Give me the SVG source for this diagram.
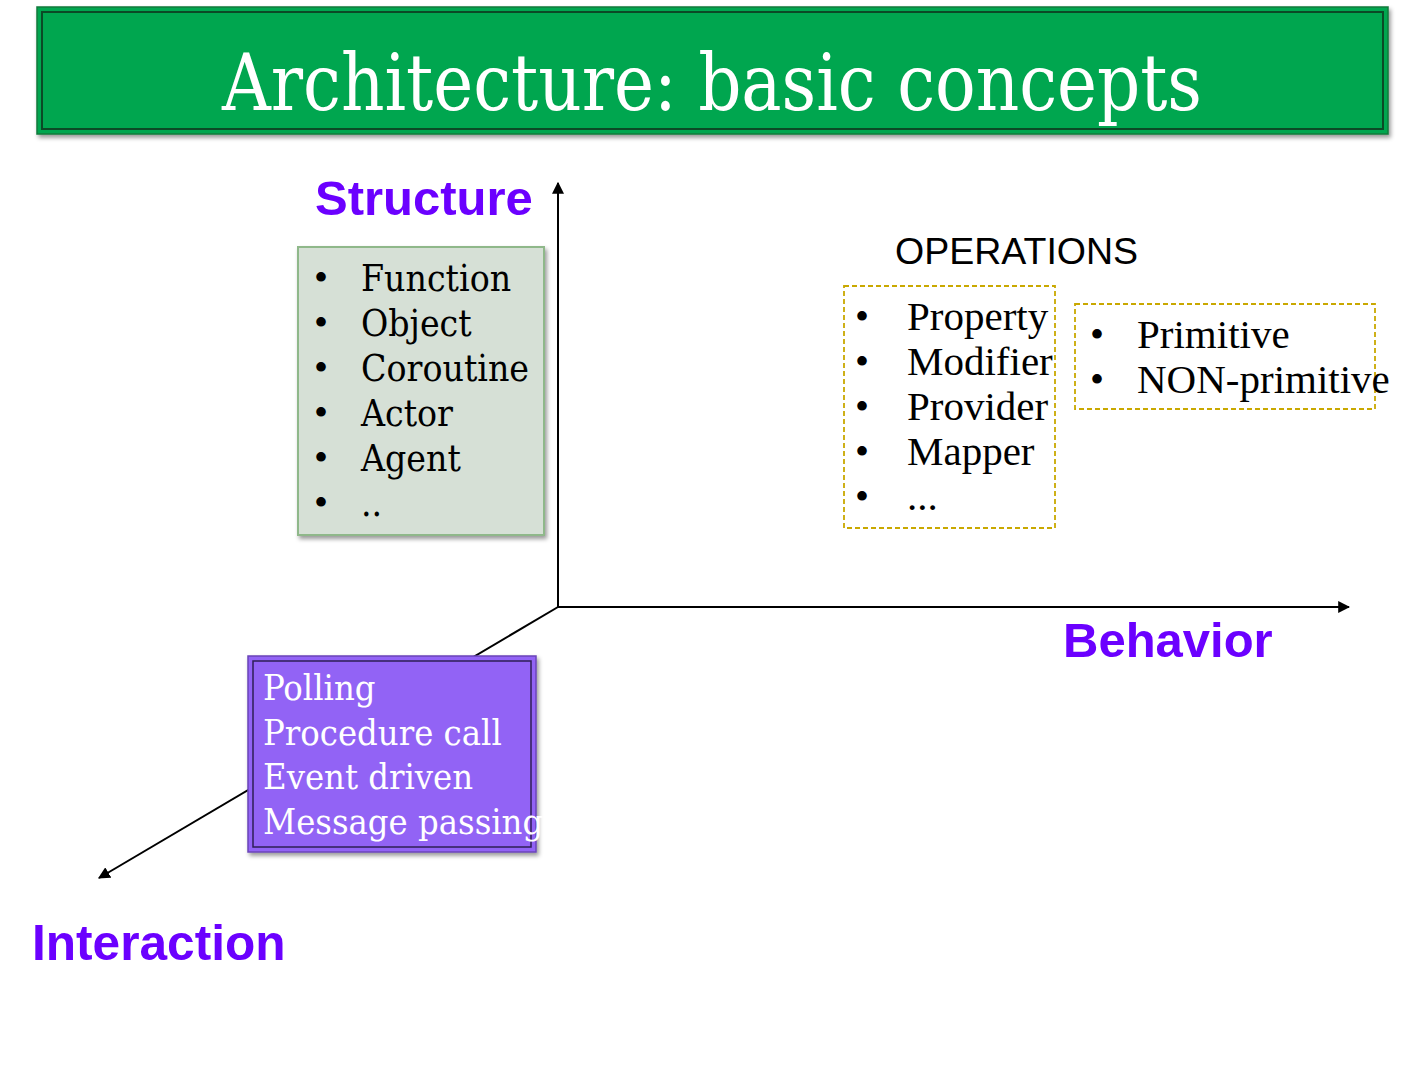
<svg xmlns="http://www.w3.org/2000/svg" width="1414" height="1074" viewBox="0 0 1414 1074">
  <style>
    .axis-label { font-family: "Liberation Sans", Arial, sans-serif; font-weight: bold; font-size: 49px; fill: #6B00FF; }
    .georgia { font-family: "DejaVu Serif Condensed", "DejaVu Serif", serif; font-stretch: condensed; }
    .times { font-family: "Liberation Serif", "Times New Roman", serif; }
    .bullet { font-family: "Liberation Serif", "Times New Roman", serif; font-size: 40px; fill: #000; }
    .axis { stroke: #000; stroke-width: 2; fill: none; }
    .dash { fill: none; stroke: #C9A800; stroke-width: 1.8; stroke-dasharray: 5 3; }
  </style>
  <defs>
    <marker id="arrow" viewBox="0 0 10 10" refX="9" refY="5" markerWidth="6" markerHeight="6" orient="auto" markerUnits="strokeWidth">
      <path d="M0,0 L10,5 L0,10 z" fill="#000"/>
    </marker>
    <filter id="shadow" x="-10%" y="-10%" width="125%" height="130%">
      <feDropShadow dx="2" dy="3" stdDeviation="2" flood-color="#000" flood-opacity="0.4"/>
    </filter>
  </defs>

  <rect width="1414" height="1074" fill="#fff"/>

  <!-- title banner -->
  <g id="title">
    <rect x="37" y="7" width="1351" height="127" fill="#00A650" stroke="#0A7A3A" stroke-width="1.5" filter="url(#shadow)"/>
    <rect x="42" y="12" width="1341" height="117" fill="none" stroke="#0B4A26" stroke-width="2"/>
    <text class="georgia" x="222" y="110" font-size="78" fill="#fff" textLength="980" lengthAdjust="spacingAndGlyphs">Architecture: basic concepts</text>
  </g>

  <!-- axes -->
  <g id="connectors">
    <line class="axis" x1="558" y1="607" x2="558" y2="183" marker-end="url(#arrow)"/>
    <line class="axis" x1="558" y1="607" x2="1349" y2="607" marker-end="url(#arrow)"/>
    <line class="axis" x1="558" y1="607" x2="99" y2="878" marker-end="url(#arrow)"/>
  </g>

  <!-- axis labels -->
  <g id="label-structure"><text class="axis-label" x="315" y="215">Structure</text></g>
  <g id="label-behavior"><text class="axis-label" x="1063" y="657">Behavior</text></g>
  <g id="label-interaction"><text class="axis-label" x="32" y="960" style="font-size:49.6px">Interaction</text></g>

  <!-- structure kinds -->
  <g id="structure-box">
    <rect x="298" y="247" width="246" height="288" fill="#D6E0D6" stroke="#8FB88A" stroke-width="2" filter="url(#shadow)"/>
    <g class="bullet">
      <text x="314" y="291">•</text>
      <text x="314" y="336">•</text>
      <text x="314" y="381">•</text>
      <text x="314" y="426">•</text>
      <text x="314" y="471">•</text>
      <text x="314" y="516">•</text>
    </g>
    <g class="georgia" font-size="37" fill="#000">
      <text x="361" y="291">Function</text>
      <text x="361" y="336">Object</text>
      <text x="361" y="381">Coroutine</text>
      <text x="361" y="426">Actor</text>
      <text x="361" y="471">Agent</text>
      <text x="361" y="516">..</text>
    </g>
  </g>

  <!-- operations -->
  <g id="operations-title">
    <text x="895" y="264" font-family="Liberation Sans, Arial, sans-serif" font-size="37.5" fill="#000">OPERATIONS</text>
  </g>

  <g id="operations-box">
    <rect class="dash" x="844" y="286" width="211" height="242"/>
    <g class="bullet">
      <text x="855" y="330">•</text>
      <text x="855" y="375">•</text>
      <text x="855" y="420">•</text>
      <text x="855" y="465">•</text>
      <text x="855" y="510">•</text>
    </g>
    <g class="times" font-size="41" fill="#000">
      <text x="907" y="330">Property</text>
      <text x="907" y="375">Modifier</text>
      <text x="907" y="420">Provider</text>
      <text x="907" y="465">Mapper</text>
      <text x="907" y="510">...</text>
    </g>
  </g>

  <g id="primitive-box">
    <rect class="dash" x="1075" y="304" width="300" height="105"/>
    <g class="bullet">
      <text x="1090" y="348">•</text>
      <text x="1090" y="393">•</text>
    </g>
    <g class="times" font-size="41" fill="#000">
      <text x="1137" y="348">Primitive</text>
      <text x="1137" y="393">NON-primitive</text>
    </g>
  </g>

  <!-- interaction kinds -->
  <g id="interaction-box">
    <rect x="248" y="656" width="288" height="196" fill="#9263F5" stroke="#6A45B8" stroke-width="1.5" filter="url(#shadow)"/>
    <rect x="253" y="661" width="278" height="186" fill="none" stroke="#2E1F55" stroke-width="1.5"/>
    <g class="georgia" font-size="36" fill="#fff">
      <text x="263" y="700">Polling</text>
      <text x="263" y="745">Procedure call</text>
      <text x="263" y="789">Event driven</text>
      <text x="263" y="834">Message passing</text>
    </g>
  </g>
</svg>
